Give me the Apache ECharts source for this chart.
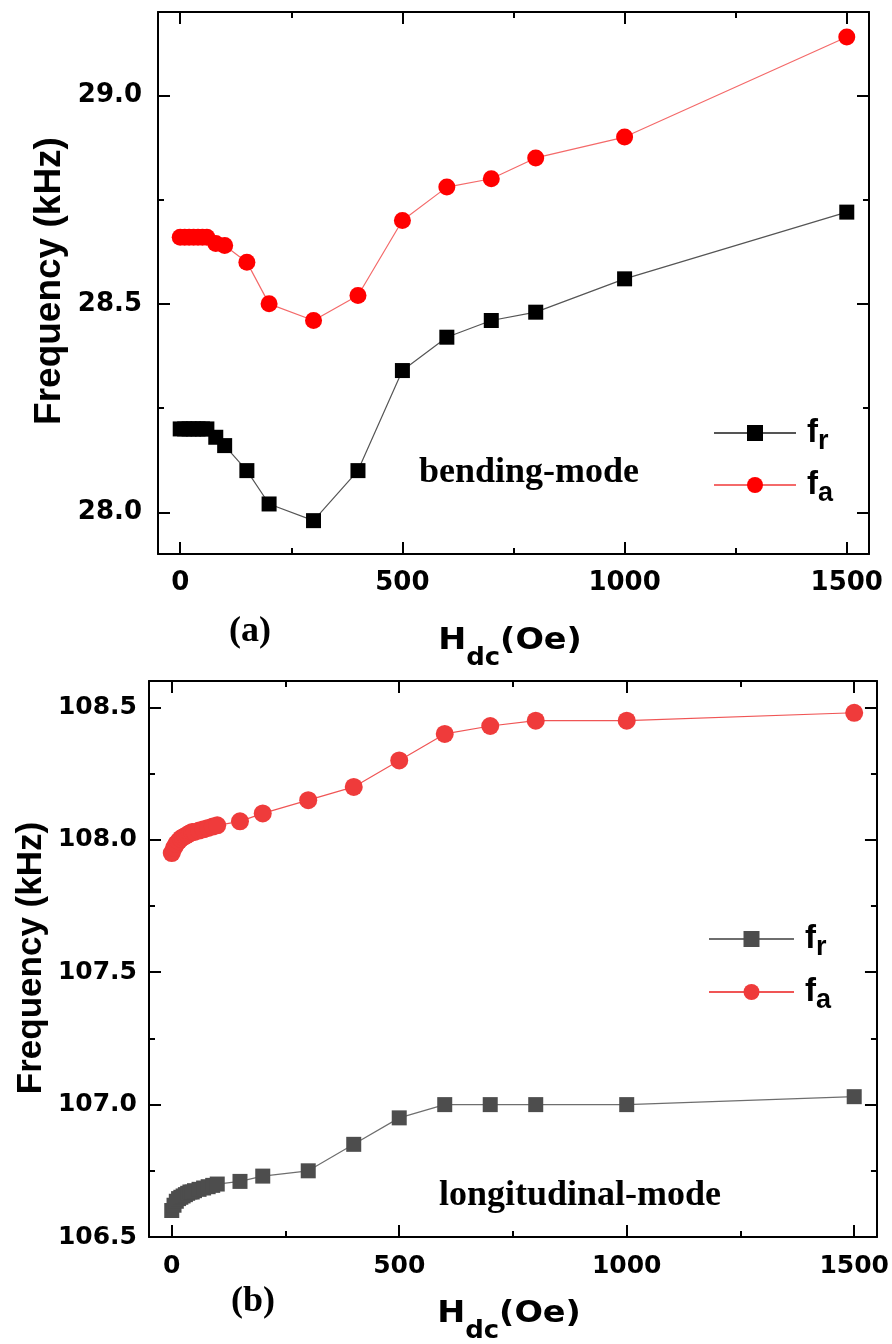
<!DOCTYPE html>
<html>
<head>
<meta charset="utf-8">
<script src="https://cdn.jsdelivr.net/npm/echarts@6/dist/echarts.min.js"></script>
<style>
  html, body { margin: 0; padding: 0; background: #ffffff; }
  #chart { width: 892px; height: 1344px; }
</style>
</head>
<body>
<div id="chart"></div>
<script>
// Bias field H_dc (Oe) and resonance / anti-resonance frequencies (kHz)
const fieldBending = [0, 10, 20, 30, 40, 50, 60, 80, 100, 150, 200, 300, 400, 500, 600, 700, 800, 1000, 1500];
const frBending = [28.20, 28.20, 28.20, 28.20, 28.20, 28.20, 28.20, 28.18, 28.16, 28.10, 28.02, 27.98, 28.10, 28.34, 28.42, 28.46, 28.48, 28.56, 28.72];
const faBending = [28.66, 28.66, 28.66, 28.66, 28.66, 28.66, 28.66, 28.645, 28.64, 28.60, 28.50, 28.46, 28.52, 28.70, 28.78, 28.80, 28.85, 28.90, 29.14];

const fieldLong = [0, 5, 10, 15, 20, 25, 30, 35, 40, 45, 50, 60, 70, 80, 90, 100, 150, 200, 300, 400, 500, 600, 700, 800, 1000, 1500];
const frLong = [106.60, 106.62, 106.635, 106.645, 106.65, 106.655, 106.66, 106.665, 106.67, 106.67, 106.675, 106.68, 106.685, 106.69, 106.695, 106.70, 106.71, 106.73, 106.75, 106.85, 106.95, 107.00, 107.00, 107.00, 107.00, 107.03];
const faLong = [107.95, 107.97, 107.985, 107.995, 108.005, 108.01, 108.015, 108.02, 108.025, 108.03, 108.03, 108.035, 108.04, 108.045, 108.05, 108.055, 108.07, 108.10, 108.15, 108.20, 108.30, 108.40, 108.43, 108.45, 108.45, 108.48];

// Axis extents and tick positions
const xRange = [-50, 1550];
const xMajorTicks = [0, 500, 1000, 1500];
const xMinorTicks = [250, 750, 1250];
const yRangeBending = [27.9, 29.2];
const yMajorBending = [28.0, 28.5, 29.0];
const yMinorBending = [28.25, 28.75];
const yRangeLong = [106.5, 108.6];
const yMajorLong = [106.5, 107.0, 107.5, 108.0, 108.5];
const yMinorLong = [106.75, 107.25, 107.75, 108.25];

const BLACK = '#000000';
const tickFont = 'DejaVu Sans';

// Four axes per side pair: labelled major, minor, mirrored major, mirrored minor
function axisSet(gridIndex, range, sides, major, minor, label) {
  const one = (pos, ticks, len, showLine, lbl) => ({
    type: 'value',
    gridIndex: gridIndex,
    min: range[0],
    max: range[1],
    position: pos,
    splitLine: { show: false },
    axisLine: { show: showLine, onZero: false, lineStyle: { color: BLACK, width: 2 } },
    axisTick: { show: true, inside: true, length: len, customValues: ticks, lineStyle: { color: BLACK, width: 2 } },
    axisLabel: lbl ? Object.assign({ show: true, customValues: ticks }, lbl) : { show: false },
    z: 5
  });
  return [
    one(sides[0], major, 12, true, label),
    one(sides[0], minor, 6, false, null),
    one(sides[1], major, 12, true, null),
    one(sides[1], minor, 6, false, null)
  ];
}

const xLabel = (size, margin) => ({
  fontFamily: tickFont, fontWeight: 'bold', fontSize: size, color: BLACK, margin: margin,
  formatter: v => String(v)
});
const yLabel = (size, margin) => ({
  fontFamily: tickFont, fontWeight: 'bold', fontSize: size, color: BLACK, margin: margin,
  formatter: v => v.toFixed(1)
});

const xAxes = [].concat(
  axisSet(0, xRange, ['bottom', 'top'], xMajorTicks, xMinorTicks, xLabel(26, 16)),
  axisSet(1, xRange, ['bottom', 'top'], xMajorTicks, xMinorTicks, xLabel(25, 17))
);
const yAxes = [].concat(
  axisSet(0, yRangeBending, ['left', 'right'], yMajorBending, yMinorBending, yLabel(26, 16)),
  axisSet(1, yRangeLong, ['left', 'right'], yMajorLong, yMinorLong, yLabel(25, 12))
);

const pairs = (xs, ys) => xs.map((x, i) => [x, ys[i]]);

function lineSeries(name, axisIndex, xs, ys, symbol, size, markColor, lineColor) {
  return {
    name: name,
    type: 'line',
    xAxisIndex: axisIndex,
    yAxisIndex: axisIndex,
    data: pairs(xs, ys),
    symbol: symbol,
    symbolSize: size,
    showSymbol: true,
    itemStyle: { color: markColor, opacity: 1 },
    lineStyle: { color: lineColor, width: 1.2 },
    z: 3
  };
}

const series = [
  lineSeries('fr_a', 0, fieldBending, frBending, 'rect', 15, '#000000', '#555555'),
  lineSeries('fa_a', 0, fieldBending, faBending, 'circle', 17, '#ff0000', '#f46a6a'),
  lineSeries('fr_b', 4, fieldLong, frLong, 'rect', 15, '#4d4d4d', '#6e6e6e'),
  lineSeries('fa_b', 4, fieldLong, faLong, 'circle', 18, '#ef3b3b', '#f05555')
];

const legendRich = {
  f: { fontFamily: 'Liberation Sans', fontWeight: 'bold', fontSize: 33, lineHeight: 44, color: BLACK, padding: [0, 0, 0, 6] },
  s: { fontFamily: 'Liberation Sans', fontWeight: 'bold', fontSize: 27, lineHeight: 24, color: BLACK, verticalAlign: 'bottom' }
};
const legendText = name => '{f|f}{s|' + (name.indexOf('fr') === 0 ? 'r' : 'a') + '}';

function legendAt(names, left, top, width, gap) {
  return {
    data: names,
    left: left,
    top: top,
    orient: 'vertical',
    padding: 0,
    itemWidth: width,
    itemHeight: 20,
    itemGap: gap,
    selectedMode: false,
    formatter: legendText,
    textStyle: { color: BLACK, lineHeight: 44, rich: legendRich }
  };
}

const titleRich = size => ({
  h: { fontFamily: tickFont, fontWeight: 'bold', fontSize: size, lineHeight: 60, fill: BLACK },
  d: { fontFamily: tickFont, fontWeight: 'bold', fontSize: 24, lineHeight: 32, fill: BLACK, verticalAlign: 'bottom' }
});

function fieldTitle(x, y) {
  return {
    type: 'text', x: x, y: y, scaleX: 1.08,
    style: { text: '{h|H}{d|dc}{h|(Oe)}', rich: titleRich(31), align: 'center', verticalAlign: 'middle' }
  };
}
function freqTitle(x, y, size) {
  return {
    type: 'text', x: x, y: y, rotation: Math.PI / 2,
    style: { text: 'Frequency (kHz)', fontFamily: 'Liberation Sans', fontWeight: 'bold', fontSize: size, fill: BLACK, align: 'center', verticalAlign: 'middle' }
  };
}
function serifText(text, x, y, size) {
  return {
    type: 'text', x: x, y: y,
    style: { text: text, fontFamily: 'Liberation Serif', fontWeight: 'bold', fontSize: size, fill: BLACK, align: 'center', verticalAlign: 'middle' }
  };
}

const chart = echarts.init(document.getElementById('chart'), null, { renderer: 'canvas' });
chart.setOption({
  animation: false,
  backgroundColor: '#ffffff',
  grid: [
    { left: 158, top: 12, width: 711, height: 542 },
    { left: 149, top: 681, width: 729, height: 556 }
  ],
  xAxis: xAxes,
  yAxis: yAxes,
  legend: [
    legendAt(['fr_a', 'fa_a'], 713, 411, 82, 8),
    legendAt(['fr_b', 'fa_b'], 708, 917, 85, 9)
  ],
  series: series,
  graphic: { elements: [
    freqTitle(49.5, 281, 37),
    freqTitle(31, 958, 35),
    fieldTitle(510, 641),
    fieldTitle(509, 1314),
    serifText('bending-mode', 529, 473, 36),
    serifText('longitudinal-mode', 580, 1196, 36),
    serifText('(a)', 250, 632, 36),
    serifText('(b)', 253, 1302, 36)
  ] }
});
</script>
</body>
</html>
